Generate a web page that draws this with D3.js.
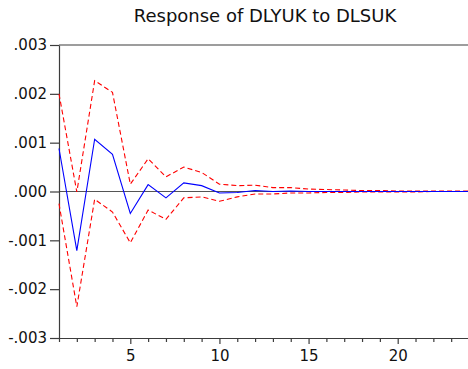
<!DOCTYPE html>
<html>
<head>
<meta charset="utf-8">
<script src="https://cdn.jsdelivr.net/npm/d3@7"></script>
<style>
  html, body { margin: 0; padding: 0; background: #fff; }
  svg { display: block; font-family: "DejaVu Sans", Verdana, sans-serif; }
</style>
</head>
<body>
<svg id="chart" width="468" height="369"></svg>
<script>
// Impulse response of DLYUK to a DLSUK shock, with +/- 2 S.E. bands
const periods = d3.range(1, 25);
const response = [0.00088, -0.00121, 0.00107, 0.00076, -0.00045, 0.00014, -0.00013, 0.000176,
  0.00012, -0.00003, -0.00002, 0.00002, 0.00000, 0.00001, 0.00000, 0.00000,
  0.00000, 0.00000, 0.00000, 0.00000, 0.00000, 0.00000, 0.00000, 0.00000];
const upperBand = [0.00200, -0.00001, 0.00227, 0.00203, 0.00015, 0.00067, 0.00030, 0.00050,
  0.00039, 0.00015, 0.00012, 0.00013, 0.00008, 0.00008, 0.00005, 0.00004,
  0.00003, 0.00002, 0.00002, 0.00001, 0.00001, 0.00001, 0.00001, 0.00001];
const lowerBand = [-0.00025, -0.00236, -0.00016, -0.00042, -0.00105, -0.00038, -0.00057, -0.00013,
  -0.00011, -0.00020, -0.00011, -0.00005, -0.00005, -0.00003, -0.00003, -0.00002,
  -0.00002, -0.00001, -0.00001, -0.00001, -0.00001, 0.00000, 0.00000, 0.00000];
const yTicks = [0.003, 0.002, 0.001, 0, -0.001, -0.002, -0.003];
const xLabelTicks = [5, 10, 15, 20];
const title = "Response of DLYUK to DLSUK";

const svg = d3.select("#chart");
const plotLeft = 59, plotRight = 469, plotTop = 45, plotBottom = 338;
const axisColor = "#3c3c3c";
const labelFont = "DejaVu Sans, Verdana, sans-serif";

const x = d3.scaleLinear().domain([1, 24]).range([plotLeft, plotRight]);
const y = d3.scaleLinear().domain([-0.003, 0.003]).range([plotBottom, plotTop]);

// ".003" / "-.003" style labels: no leading zero, plain hyphen for negatives
const fmt = v => (v < 0 ? "-" : "") + d3.format(".3f")(Math.abs(v)).replace(/^0\./, ".");

// title
svg.append("text")
  .attr("x", 265)
  .attr("y", 22)
  .attr("text-anchor", "middle")
  .attr("font-size", 18)
  .attr("fill", "#111")
  .text(title);

// top frame line
svg.append("line")
  .attr("x1", plotLeft).attr("x2", plotRight)
  .attr("y1", plotTop).attr("y2", plotTop)
  .attr("stroke", axisColor).attr("stroke-width", 1.2);

// zero reference line
svg.append("line")
  .attr("x1", plotLeft).attr("x2", plotRight)
  .attr("y1", y(0)).attr("y2", y(0))
  .attr("stroke", "#555").attr("stroke-width", 1.2);

// y axis
const yAxis = svg.append("g")
  .attr("transform", `translate(${plotLeft},0)`)
  .call(d3.axisLeft(y).tickValues(yTicks).tickFormat(fmt).tickSize(9).tickPadding(3).tickSizeOuter(0));
yAxis.selectAll("path, line").attr("stroke", axisColor).attr("stroke-width", 1.2);
yAxis.selectAll("text").attr("font-size", 15).attr("fill", "#111").attr("font-family", labelFont);

// x axis: minor ticks every period, labels every five
const xAxis = svg.append("g")
  .attr("transform", `translate(0,${plotBottom})`)
  .call(d3.axisBottom(x).tickValues(periods)
    .tickFormat(d => xLabelTicks.includes(d) ? d : "")
    .tickSize(4).tickPadding(8).tickSizeOuter(0));
xAxis.selectAll("path, line").attr("stroke", axisColor).attr("stroke-width", 1.2);
xAxis.selectAll(".tick").filter(d => xLabelTicks.includes(d)).select("line").attr("y2", 6);
xAxis.selectAll("text").attr("font-size", 15).attr("fill", "#111").attr("font-family", labelFont);

const line = d3.line().x((d, i) => x(periods[i])).y(d => y(d));

// confidence bands
[upperBand, lowerBand].forEach(band => {
  svg.append("path")
    .datum(band)
    .attr("d", line)
    .attr("fill", "none")
    .attr("stroke", "#ff0000")
    .attr("stroke-width", 1.1)
    .attr("stroke-dasharray", "5,3");
});

// point response
svg.append("path")
  .datum(response)
  .attr("d", line)
  .attr("fill", "none")
  .attr("stroke", "#0000ff")
  .attr("stroke-width", 1.1);
</script>
</body>
</html>
